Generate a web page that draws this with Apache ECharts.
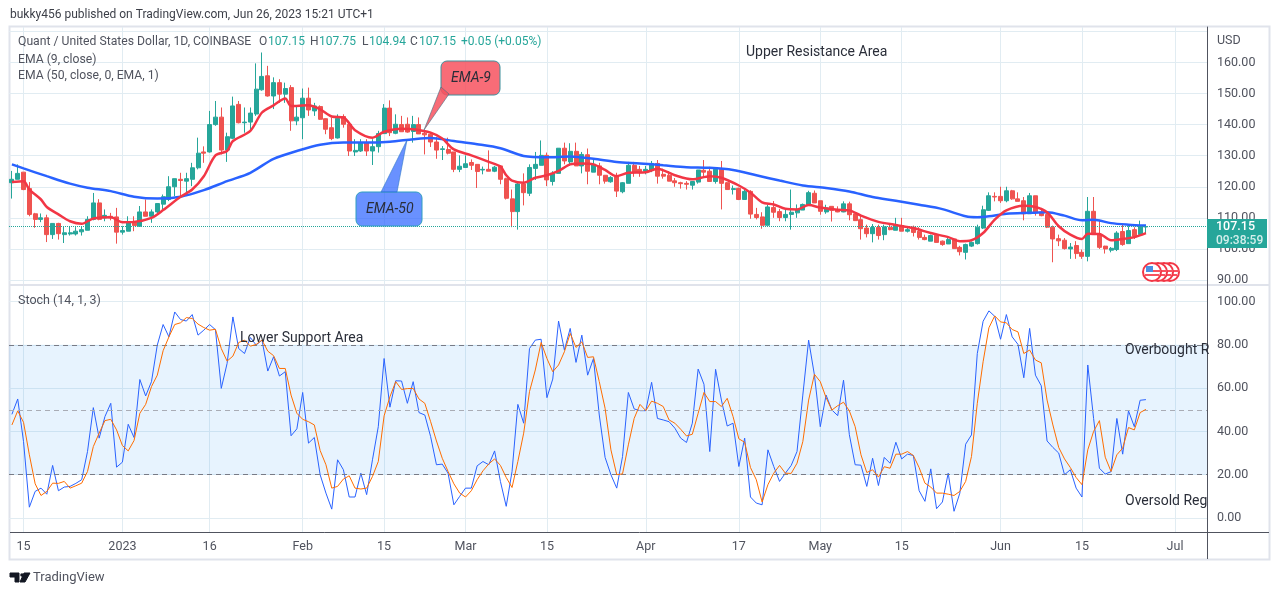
<!DOCTYPE html>
<html>
<head>
<meta charset="utf-8">
<style>
  html, body { margin: 0; padding: 0; background: #fff; }
  #main { width: 1281px; height: 595px; }
</style>
<script src="https://cdn.jsdelivr.net/npm/echarts@6/dist/echarts.min.js"></script>
</head>
<body>
<div id="main"></div>
<script>
// daily bars (Dec 13 2022 -> Jun 26 2023)
const opens = [
  121.3,122.4,124.7,119.4,111.3,109.5,110,104.6,108.2,104.6,
  104.8,104.8,105.5,106,109.5,114.8,110,110.5,110.3,105.4,
  105.7,108.6,107.3,111.9,110.5,111.9,114.4,115.9,120,122.4,
  121.8,122.4,126.1,131.2,131.2,140,142.4,131.8,135.6,146.5,
  140.6,140.8,143.4,151.2,155.7,149.2,153.5,149.8,151.9,141.2,
  142.2,148.5,144.4,145.8,141.9,139,135.7,142.6,140.1,131.2,
  131.5,134.2,131.5,132.9,137.1,145.3,137.2,140,140.1,137.8,
  140,137.2,136.9,134.4,132,132,131.2,125.6,126.2,127.8,
  127.2,125.4,125.6,125,126.7,122.6,116.1,112,120.9,117.9,
  125.9,126.9,130.1,121.7,124.3,132.4,128,131.4,126.7,130.3,
  124.7,126.7,123.7,121.6,123.2,118.4,121.1,126.9,125.6,125,
  125.4,127.5,124,123.7,121.9,121.3,121.1,120.5,121.5,125.3,
  125,121.7,125.6,121.3,119.1,119.5,115.9,118.5,111.1,110.3,
  107.6,113.3,112,110.1,111.1,111.6,112.5,114.3,117.9,115.5,
  111.9,113.7,112.6,111.9,114.5,111.3,109.4,106.7,104.9,106.9,
  104.6,107,106,107.5,105.7,107,105.7,103.7,102.5,104.4,
  102.5,101.6,103.2,100.5,98.9,100.9,101.7,106.7,112.4,116.9,
  116.9,115.5,118.7,116.1,115.5,111.3,117.1,111.9,111.1,107,
  103.3,102.8,100,101.1,98.9,97.6,112.1,104.6,100.9,99.6,
  99.8,105.6,101.7,106.2,104.6,107.1
];
const closes = [
  122.4,124.3,119.1,111.1,109.5,110,104.6,108.2,104.9,105.2,
  105.2,105.7,106.2,109.5,114.8,109.5,110.8,110,105.4,105.9,
  108.4,107.5,111.9,110.5,111.9,114.6,116.8,120,122.6,122,
  122.6,126.1,130.8,130.8,140,142.4,131.8,136.1,146,140.6,
  140.8,143.7,151.4,155.5,149.2,153.5,149.8,151.6,141.2,142.4,
  148.5,144.7,146,141.7,138.5,135.5,142,140.1,131.5,131.7,
  134.2,131.5,132.9,137.1,145.3,137.4,140.1,137.7,137.6,140,
  137,136.7,134.4,131.8,132.2,130.8,125.6,126.6,127.4,126.9,
  124.9,125.6,125,126.3,122.4,116.3,112,120.9,118.1,126.2,
  127.2,130.1,122.2,124.3,132.4,128.3,131.4,126.7,130.4,125,
  127.2,123.7,121.8,123,118.6,121.3,126.9,124.7,124.5,125.6,
  127.5,123.4,123.4,121.8,121.3,121,120.8,121.7,125.4,124.7,
  121.7,125.6,121.1,119.1,119.4,115.9,118.5,111.2,110.1,107.6,
  113.5,111.8,110.1,111.1,111.8,112.7,114.3,118.1,114.8,112.1,
  113.2,112.4,111.9,114.5,111,109.1,106.5,104.9,106.9,104.3,
  107.1,106.2,107.8,105.7,106.2,105.3,103.7,103,104.3,102.1,
  101.4,103,100.1,99.1,101.4,102.1,107,112.6,117.1,116.7,
  115.5,118.7,116.1,115.3,111.3,117.1,111.8,110.7,107,103.2,
  102.6,100.1,100.6,98.5,97.6,112.1,104.6,100.5,100,100.2,
  105.1,101.4,105.9,104.1,107.5,107.15
];
const lows = [
  116.2,122.4,118.9,110.5,106.8,108.6,102.2,103.2,103,101.9,
  104.3,104.3,104.3,106,109.2,109.2,108.9,109.2,101.7,104.6,
  105.7,105.7,107.1,110.5,108.4,111,112.7,115.4,117,117,
  117,120.2,125.6,127.7,131,139.6,130.4,128,135.3,140.4,
  137.4,138,142.8,150.9,149,145,147,147,138,139.8,
  135.3,142.8,142.8,141.5,136.9,135,135.5,139,129.9,129.9,
  131.2,129.9,127,131,137.1,136.3,136.9,137.7,137.4,134.2,
  137,130.4,132.8,129,128.6,130.4,124.7,124.7,126.1,125.4,
  119.6,124,125,124.7,120.8,115.9,107,106.2,114,117,
  122.2,126.9,120.2,120.4,124.3,127.2,126.7,126.7,124.3,120.8,
  124.7,120.8,121,121.3,116.7,117.9,121.1,123.2,123.2,124,
  124.7,121,122.6,121.8,120,119.4,119.1,119.1,121,123.4,
  121.7,121,112.7,119.1,117.5,115.7,115.9,109.7,109.5,106.5,
  107.6,110,108.9,108.9,106.2,110,112.5,113.8,114.8,111,
  111.3,108.8,111.8,111.8,109.2,109.1,103,103.7,102.1,103,
  102.8,106,106,105.7,105.3,104,103,102.8,102.5,102.1,
  101,101.6,100.1,97.9,96.6,100.6,101.4,106.4,112.2,115.3,
  114.8,115,115.8,115.3,109.2,111.3,110.7,110.5,106.7,95.7,
  100.9,99.8,96.8,96.8,96.8,96,104.6,100,98.5,98.9,
  99.3,101,101.7,103.2,104.6,104.94
];
const highs = [
  125.1,127.2,124.7,121.5,111.6,111.4,111,108.2,108.4,107.1,
  107.1,107,107.3,110.5,118,116,112.7,111.6,113.2,107.3,
  110.5,110.5,113.8,115.9,112.7,114.6,117.5,123.4,122.6,124.5,
  124.5,127.7,135.8,133,144.4,147.6,145.5,137.4,149,147.6,
  145.5,145.5,159.7,163.2,158.9,155.2,154.6,153.5,152.7,146,
  151.6,151.9,147,146.2,142,142.3,143.3,143.3,141.2,135.3,
  135.3,135.3,135.3,138,146.6,147.8,143.3,142.8,142.3,142.8,
  142.3,138,137.5,136.1,133.1,135.8,131.2,130.1,130.1,128.8,
  127.2,126.5,131.7,126.7,126.9,122.9,119.1,121.3,124.3,127.2,
  131.2,134.9,131,125,132.4,134.2,134,134.2,131.2,132.3,
  129,127.7,123.7,123.4,124.5,121.5,128,128,126.7,126.7,
  128.3,128.6,125.8,125,122.8,121.6,121.8,121.8,125.4,128.6,
  126.4,126.1,128.3,121.5,120.4,119.7,119.1,118.9,113.2,111.8,
  114.3,115.4,112.9,112.7,119.1,114.3,114.6,118.7,118.8,115.5,
  114.2,113.7,113.7,115.3,115.2,111.3,111,107.8,108,107.8,
  107.8,107.8,110,110,107,107.5,107,104.6,104.6,104.8,
  102.7,103.5,103.5,101,101.7,102.4,107.8,113.9,118.2,118.2,
  120,120,119,118.2,116.7,118,117.1,113.2,111.5,107.5,
  104.6,103.5,101.9,102.5,99.8,116.7,116.7,109.4,101,100.6,
  105.7,108.1,107.3,107,109.1,107.75
];

// EMA lines, [bar index, price] read at spots along each curve
const ema9 = [
  [0,121.5],[2,121.8],[3,119.1],[5,115.9],[6,113.5],[8,111.1],[10,108.9],[12,108.1],[14,109.8],[17,110.2],
  [19,108.6],[21,108.7],[24,110],[26,112.5],[29,116.8],[31,119.1],[33,123.4],[35,130.1],[37,131.5],[38,134.7],
  [41,138],[43,143.9],[45,146.2],[47,148.4],[48,146],[51,146.2],[53,144.9],[55,142.6],[57,142.3],[59,138.2],
  [62,135.8],[64,137.7],[67,138.7],[69,138.5],[72,137.4],[74,135.5],[76,132],[79,130.1],[82,128],[84,126.5],
  [85,123.7],[86,122],[88,121.3],[90,122.9],[92,123.7],[94,125.1],[96,127.2],[98,127.5],[100,127.2],[102,125.4],
  [104,123.4],[106,124.5],[109,124.7],[111,125.8],[114,123.7],[117,122.4],[120,123.4],[122,122.9],[125,120.4],[127,118.1],
  [129,115],[131,114.3],[133,112.9],[135,112.7],[137,114.1],[139,113.3],[142,112.6],[144,112.4],[146,110.7],[149,108.7],
  [152,107.7],[155,106.7],[158,105.1],[161,103.8],[163,102.5],[165,102.8],[167,105.1],[169,109.4],[171,112.4],[174,113.9],
  [176,113.5],[178,111.8],[180,107.3],[182,104.6],[184,103.2],[185,104.9],[187,104.8],[189,102.8],[191,103.2],[193,103.8],[195,105.1]
];
const ema50 = [
  [0,127.2],[2,125.9],[6,123.4],[10,121],[13,119.7],[17,118.6],[21,116.8],[25,116.2],[29,116.8],[33,118.9],
  [37,121.8],[41,124.5],[45,129],[49,131.5],[53,133.5],[57,134.2],[61,134.2],[65,134.5],[69,135.3],[72,135.7],
  [76,134.7],[80,133.7],[84,132.4],[88,129.9],[92,129.5],[96,129.7],[100,129],[104,128],[108,127.5],[112,126.9],
  [116,126.3],[120,126.1],[124,125.4],[128,123.7],[132,122],[136,120.4],[140,119.6],[144,118.5],[148,116.7],[152,115.5],
  [156,114.2],[160,112.8],[164,110.5],[166,110.2],[168,110.5],[171,111.3],[175,111.6],[178,111.8],[181,110.7],[184,109.2],
  [186,109.4],[189,108.3],[192,107.8],[195,107.5]
];

// stochastic, one value per bar
const stochK = [
  47.9,55,35.3,5,12.3,13.8,11,24.3,12.6,14.3,
  14.6,16,17.7,30.7,51,36.9,46.9,53,23.5,25.8,
  43.3,37.2,64,56.4,63,79.9,89.4,83.7,95.2,91.7,
  91,94,84.5,86.8,89.4,87,59.9,71.4,92.9,78.3,
  76,83.4,79.9,82.2,67.9,74.5,65.6,67.6,38,41.2,
  58,34.6,37.2,20,11.5,4.1,26.9,22.3,9.7,9.7,
  20.7,10.8,26.9,42.2,73.7,51.2,63.4,63.3,53,63,
  48.7,47.6,37.6,24.6,24.9,20.7,6.1,10,13.8,13.8,
  24.1,26.1,24.6,31,16.9,5.4,21.5,52.5,43.8,78.3,
  82.2,82.6,55.6,64.2,91,77.6,87.6,71.9,84.5,66,
  73.7,47.6,28,20,13.8,28.4,58,50.4,49.6,49.6,
  62.7,46,45.3,44.5,41.5,36.9,34.9,43.8,68.8,61.8,
  30.7,68.7,54.5,42.5,43.8,23.8,36.9,9.7,6.9,6.1,
  31.5,23.8,16.9,20.7,24.3,30.7,56.8,82.2,66,42.2,
  56.8,49.9,47.3,63.7,38.5,24.6,24.4,14.6,27.6,15,
  28,25.3,35,27.3,29.5,28.9,12.6,7.7,22.7,4.3,
  7.4,20.7,3.1,11.5,34.1,38.4,76,90.9,95.7,93.2,
  82.6,94,83.7,80.2,64.8,87.6,66,61.1,35.6,32.6,
  30,20,22.3,13.8,9.7,70.7,46,23,20.3,21.4,
  46,29.5,49.5,42.2,54.4,54.7
];
const stochD = [
  43,49.5,44.2,29.2,15.8,10.4,12.3,16.1,16,16.9,
  13.8,14.9,16.1,21.5,33,39.2,45,45.6,40.7,33.5,
  31,35.8,48.4,52.5,60.7,66,77.3,83.7,89.4,90.2,
  92.6,92.2,89.6,88,86.8,87.2,78.3,72.5,74.8,81.1,
  82.2,79.4,80.2,82.2,77.1,75,69.1,69.1,56.8,48.4,
  45.6,44.5,43,31.2,24.6,13.8,14.6,18,19.5,13.8,
  13.4,13.8,19.2,26.1,47.2,56,63,59.4,59.8,59.9,
  55,53,44.5,35.6,27.6,21.5,15.8,11.5,9.7,12.6,
  17.7,21.8,25,27.3,24.3,18.7,14.1,26.1,39.2,58.4,
  68.4,81.1,73.7,67.6,70.7,76.8,85.3,78.8,81.4,74.2,
  74.5,63,50.7,31.5,20,20.4,33.8,46,52.5,49.6,
  54,53,51.5,45.3,43.8,41,37.9,38.7,48.4,58,
  53.8,53.8,51.5,55.3,46.9,36.6,35,23.3,17.7,7.4,
  15.4,20.7,24.3,20.7,20.6,25.3,35.3,54.5,66.4,63,
  55.6,49.9,51.9,53.5,49.5,42.2,29.2,21,22.3,18.9,
  23.7,23,29.5,29.5,30.7,28.9,23.3,16.1,14.3,11.5,
  11.5,11,10.4,12.3,16.9,28.4,53,72.2,87.9,93.4,
  90.6,90.2,87.1,86,76,77.6,73,71.7,54.5,43,
  32.6,27.3,23.3,18.7,15.4,31.5,40,45,28.1,21.5,
  29.2,32.3,41.8,40.7,48.7,50.2
];

// axis ticks
const tickDays = ['2022-12-15','2023-01-01','2023-01-16','2023-02-01','2023-02-15','2023-03-01','2023-03-15','2023-04-01','2023-04-17','2023-05-01','2023-05-15','2023-06-01','2023-06-15','2023-07-01'];
const tickLabels = ['15','2023','16','Feb','15','Mar','15','Apr','17','May','15','Jun','15','Jul'];
const priceGrid = [90,100,110,120,130,140,150,160,170];
const priceLabels = [90,100,110,120,130,140,150,160];
const stochTicks = [0,20,40,60,80,100];

const TEAL = '#26a69a';
const RED = '#ef5350';
const GREY = '#50535e';
const FONT = 'Roboto, sans-serif';

// calendar days on the axis, the chart runs on past the last bar
const days = [];
for (let i = 0; i < 206; i++) {
  days.push(new Date(Date.UTC(2022, 11, 13 + i)).toISOString().slice(0, 10));
}
const isTick = (index) => tickDays.indexOf(days[index]) >= 0;

const candles = opens.map((o, i) => [o, closes[i], lows[i], highs[i]]);

function makeXAxis(gridIndex, withLabels) {
  return {
    type: 'category',
    gridIndex,
    data: days,
    axisLine: { show: false },
    axisTick: { show: false },
    axisLabel: {
      show: withLabels,
      interval: (index) => isTick(index),
      formatter: (v) => tickLabels[tickDays.indexOf(v)],
      color: GREY,
      fontSize: 12.5,
      fontFamily: FONT,
      margin: 8
    },
    splitLine: {
      show: true,
      alignWithLabel: true,
      interval: (index) => isTick(index),
      lineStyle: { color: '#e1ecf2', width: 1 }
    }
  };
}

function makeYAxis(gridIndex, min, max, gridValues, labelValues) {
  return {
    type: 'value',
    gridIndex,
    position: 'right',
    min,
    max,
    axisLine: { show: true, lineStyle: { color: '#5d606b' } },
    axisTick: { show: false, customValues: gridValues },
    axisLabel: {
      customValues: labelValues,
      formatter: (v) => v.toFixed(2),
      color: GREY,
      fontSize: 12.5,
      fontFamily: FONT,
      padding: [4, 0, 0, 0],
      margin: 10
    },
    splitLine: { show: true, lineStyle: { color: '#e1ecf2', width: 1 } }
  };
}

const textEl = (x, y, text, fontSize, fill, extra) => ({
  type: 'text', x, y, z: 50,
  style: Object.assign({ text, fontSize, fill, fontFamily: FONT, textVerticalAlign: 'middle' }, extra || {})
});
const poly = (points, fill, stroke) => ({
  type: 'polygon', z: 40, shape: { points },
  style: { fill, stroke, lineWidth: 1 }
});
const hline = (x1, y1, x2, y2, stroke, lineWidth) => ({
  type: 'line', z: 30, shape: { x1, y1, x2, y2 }, style: { stroke, lineWidth: lineWidth || 1 }
});

// flag badge: four red rings overlapping left to right, each with its stripes
const flag = [];
[1170, 1164, 1158, 1152].forEach((cx, n) => {
  flag.push({ type: 'circle', z: 40 + n * 2, shape: { cx, cy: 272, r: 9 }, style: { fill: '#fff', stroke: '#f23645', lineWidth: 2 } });
  flag.push({ type: 'rect', z: 41 + n * 2, shape: { x: cx + 1, y: 270, width: 8, height: 2 }, style: { fill: '#f7525f' } });
  flag.push({ type: 'rect', z: 41 + n * 2, shape: { x: cx - 7, y: 274, width: 14, height: 2 }, style: { fill: '#f7525f' } });
  flag.push({ type: 'rect', z: 41 + n * 2, shape: { x: cx - 6, y: 266, width: 7, height: 6 }, style: { fill: '#4a90e2' } });
});

const graphics = [
  // frame
  { type: 'rect', z: 0, shape: { x: 9.5, y: 26.5, width: 1260, height: 533 }, style: { fill: 'none', stroke: '#e0e3eb', lineWidth: 2 } },
  hline(10, 285, 1269, 285, '#e0e3eb', 2),
  hline(10, 532.5, 1269, 532.5, '#50535e', 1),
  hline(1207.5, 27, 1207.5, 559, '#50535e', 1),
  // header and legend
  textEl(10, 15, 'bukky456 published on TradingView.com, Jun 26, 2023 15:21 UTC+1', 12, '#3c3f48'),
  textEl(18, 42, 'Quant / United States Dollar, 1D, COINBASE', 12.2, GREY),
  textEl(259, 42, 'O', 12, GREY), textEl(268, 42, '107.15', 12, TEAL),
  textEl(310, 42, 'H', 12, GREY), textEl(319, 42, '107.75', 12, TEAL),
  textEl(362, 42, 'L', 12, GREY), textEl(369, 42, '104.94', 12, TEAL),
  textEl(410, 42, 'C', 12, GREY), textEl(419, 42, '107.15', 12, TEAL),
  textEl(461, 42, '+0.05 (+0.05%)', 12, TEAL),
  textEl(18, 60, 'EMA (9, close)', 12.2, GREY),
  textEl(18, 76, 'EMA (50, close, 0, EMA, 1)', 12.2, GREY),
  textEl(18, 301, 'Stoch (14, 1, 3)', 12.5, GREY),
  textEl(1217, 41, 'USD', 12.5, GREY),
  // drawings on the chart
  textEl(746, 52, 'Upper Resistance Area', 14, '#2a2e39'),
  textEl(240, 338, 'Lower Support Area', 14, '#2a2e39'),
  textEl(1125, 350, 'Overbought R', 14, '#2a2e39'),
  textEl(1125, 501, 'Oversold Reg', 14, '#2a2e39'),
  // EMA-9 callout
  {
    type: 'rect', z: 40, shape: { x: 441, y: 61, width: 59, height: 34, r: 6 },
    style: { fill: 'rgba(247,82,95,0.85)', stroke: '#3f8f9b', lineWidth: 1 }
  },
  poly([[441, 87], [424, 130], [449, 94]], 'rgba(247,82,95,0.85)', 'rgba(70,110,130,0.6)'),
  textEl(451, 78, 'EMA-9', 14, '#2a2e39', { fontStyle: 'italic' }),
  // EMA-50 callout
  {
    type: 'rect', z: 40, shape: { x: 356, y: 192, width: 66, height: 34, r: 6 },
    style: { fill: 'rgba(41,98,255,0.7)', stroke: '#2f9fc0', lineWidth: 1 }
  },
  poly([[381, 192], [407, 140], [397, 192]], 'rgba(41,98,255,0.7)', 'rgba(47,120,200,0.6)'),
  textEl(366, 209, 'EMA-50', 14, '#2a2e39', { fontStyle: 'italic' }),
  // last price tag
  { type: 'rect', z: 45, shape: { x: 1207, y: 219, width: 60, height: 29 }, style: { fill: TEAL } },
  textEl(1216, 227, '107.15', 12.5, '#fff', { fontWeight: 500 }),
  textEl(1216, 241, '09:38:59', 12, '#d4efec', { fontWeight: 500 }),
  // logo
  poly([[10, 573], [19, 573], [19, 582], [15, 582], [15, 577], [10, 577]], '#131722', '#131722'),
  { type: 'circle', z: 40, shape: { cx: 22, cy: 575, r: 1.8 }, style: { fill: '#131722' } },
  poly([[24, 573], [30, 573], [25, 582], [20, 582]], '#131722', '#131722'),
  textEl(33, 578, 'TradingView', 13, '#50535e')
].concat(flag);

const chart = echarts.init(document.getElementById('main'), null, { renderer: 'canvas' });

chart.setOption({
  animation: false,
  backgroundColor: '#fff',
  grid: [
    { left: 9, right: 74, top: 27, height: 257.5, containLabel: false },
    { left: 9, right: 74, top: 286, height: 246.5, containLabel: false }
  ],
  xAxis: [makeXAxis(0, false), makeXAxis(1, true)],
  yAxis: [
    makeYAxis(0, 88.55, 171.4, priceGrid, priceLabels),
    makeYAxis(1, -6.7, 107.2, stochTicks, stochTicks)
  ],
  graphic: graphics,
  series: [
    {
      name: 'QNTUSD',
      type: 'candlestick',
      xAxisIndex: 0,
      yAxisIndex: 0,
      barWidth: 4.5,
      data: candles,
      itemStyle: { color: TEAL, color0: RED, borderColor: TEAL, borderColor0: RED, borderWidth: 1 },
      markLine: {
        silent: true,
        symbol: 'none',
        label: { show: false },
        lineStyle: { color: TEAL, type: 'dotted', width: 1 },
        data: [{ yAxis: 107.15 }]
      },
      z: 3
    },
    {
      name: 'EMA 50',
      type: 'line',
      xAxisIndex: 0,
      yAxisIndex: 0,
      data: ema50,
      symbol: 'none',
      smooth: 0.3,
      lineStyle: { color: '#2962ff', width: 2.5 },
      z: 4
    },
    {
      name: 'EMA 9',
      type: 'line',
      xAxisIndex: 0,
      yAxisIndex: 0,
      data: ema9,
      symbol: 'none',
      smooth: 0.3,
      lineStyle: { color: '#f23645', width: 2.5 },
      z: 5
    },
    {
      name: '%K',
      type: 'line',
      xAxisIndex: 1,
      yAxisIndex: 1,
      data: stochK,
      symbol: 'none',
      lineStyle: { color: '#2962ff', width: 1 },
      markArea: {
        silent: true,
        itemStyle: { color: 'rgba(33,150,243,0.11)' },
        data: [[{ yAxis: 20 }, { yAxis: 80 }]]
      },
      markLine: {
        silent: true,
        symbol: 'none',
        label: { show: false },
        data: [
          { yAxis: 80, lineStyle: { color: '#787b86', type: [5, 4], width: 1 } },
          { yAxis: 50, lineStyle: { color: '#a9acb5', type: [5, 4], width: 1 } },
          { yAxis: 20, lineStyle: { color: '#787b86', type: [5, 4], width: 1 } }
        ]
      },
      z: 4
    },
    {
      name: '%D',
      type: 'line',
      xAxisIndex: 1,
      yAxisIndex: 1,
      data: stochD,
      symbol: 'none',
      lineStyle: { color: '#ff6d00', width: 1 },
      z: 5
    }
  ]
});
</script>
</body>
</html>
